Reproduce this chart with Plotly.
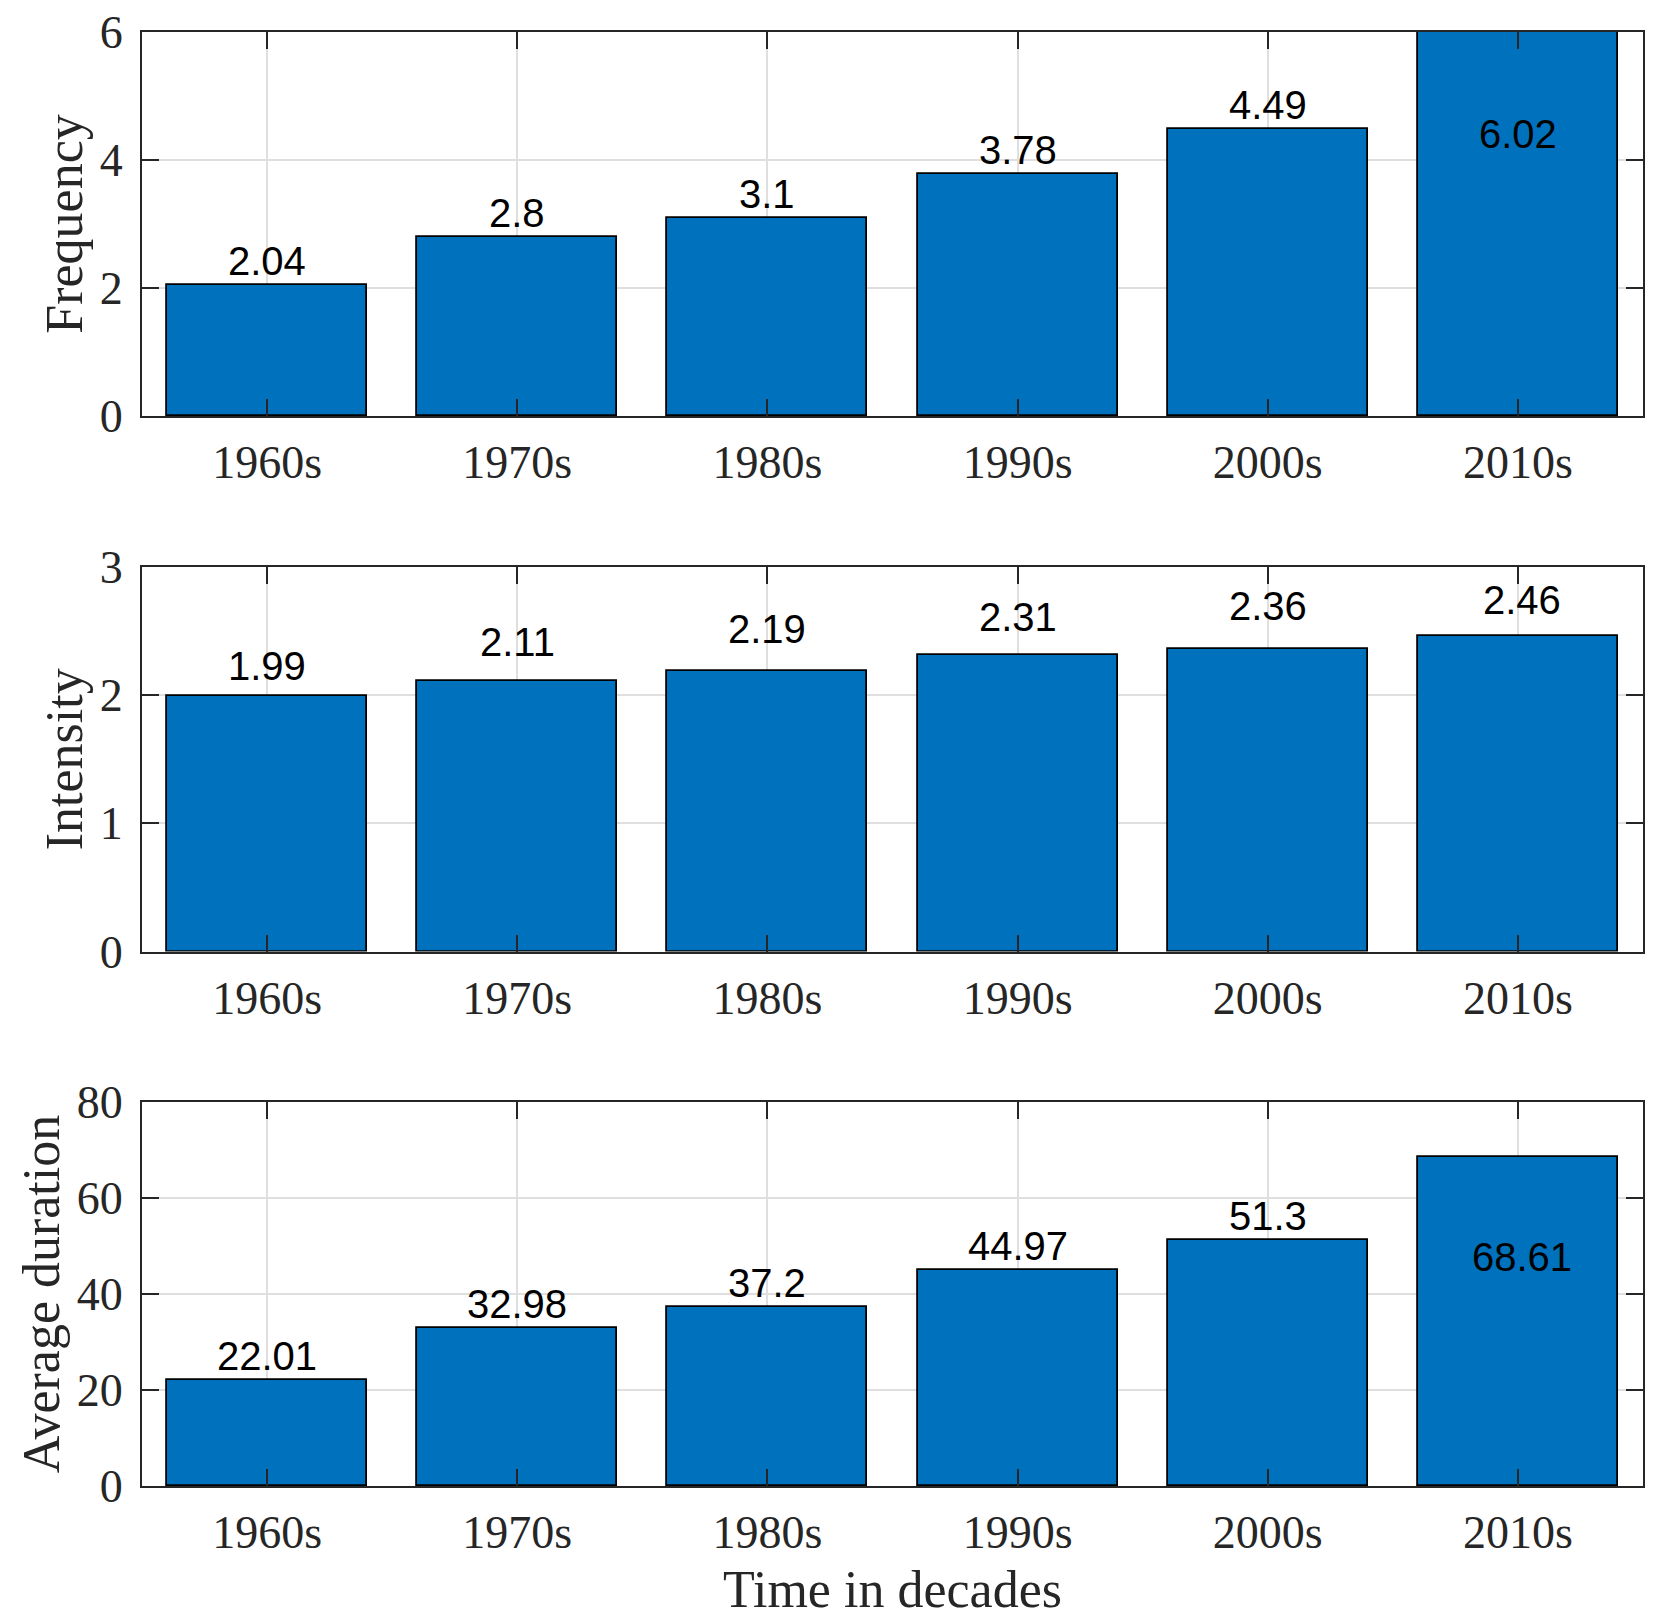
import plotly.graph_objects as go

# ---- data ----
decades = ["1960s", "1970s", "1980s", "1990s", "2000s", "2010s"]
frequency = [2.04, 2.8, 3.1, 3.78, 4.49, 6.02]
intensity = [1.99, 2.11, 2.19, 2.31, 2.36, 2.46]
duration = [22.01, 32.98, 37.2, 44.97, 51.3, 68.61]

freq_ticks = [0, 2, 4, 6]
int_ticks = [0, 1, 2, 3]
dur_ticks = [0, 20, 40, 60, 80]

# ---- label placement (pixel shifts relative to bar top) ----
freq_shift = [0, 0, 0, 0, 0, -126]
int_shift = [6, 15, 18, 14, 19, 12]
dur_shift = [0, 0, 0, 0, 0, -124]
freq_xshift = [0, 0, 0, 0, 0, 0]
int_xshift = [0, 0, 0, 0, 0, 4]
dur_xshift = [0, 0, 0, 0, 0, 4]

W, H = 1664, 1622
BAR = "#0072BD"
AX = "#262626"
GRID = "#dfdfdf"
SERIF = "Liberation Serif, Times New Roman, serif"
SANS = "Liberation Sans, Arial, sans-serif"

x = list(range(len(decades)))
xdom = [142 / W, 1643 / W]
ydoms = [
    [1 - 416 / H, 1 - 32 / H],
    [1 - 951.5 / H, 1 - 567 / H],
    [1 - 1486 / H, 1 - 1102 / H],
]

panels = [
    (frequency, freq_ticks, "Frequency", freq_shift, freq_xshift),
    (intensity, int_ticks, "Intensity", int_shift, int_xshift),
    (duration, dur_ticks, "Average duration", dur_shift, dur_xshift),
]

fig = go.Figure()
annotations = []
layout = {}
for i, (vals, ticks, title, shifts, xshifts) in enumerate(panels):
    n = i + 1
    xa = "x" if n == 1 else f"x{n}"
    ya = "y" if n == 1 else f"y{n}"
    ymax = ticks[-1]
    fig.add_trace(go.Bar(
        x=x, y=vals, width=0.8, xaxis=xa, yaxis=ya,
        marker=dict(color=BAR, line=dict(color="#000000", width=1.8)),
        showlegend=False, hoverinfo="skip",
    ))
    common = dict(
        showline=True, linecolor=AX, linewidth=2, mirror="ticks",
        ticks="inside", ticklen=17, tickwidth=2, tickcolor=AX,
        showgrid=True, gridcolor=GRID, gridwidth=1.5, zeroline=False,
        automargin=False,
        tickfont=dict(family=SERIF, size=46, color=AX),
    )
    layout[f"xaxis{'' if n == 1 else n}"] = dict(
        common, domain=xdom, anchor=ya, range=[-0.5, 5.5],
        tickvals=x, ticktext=decades, ticklabelstandoff=5,
        title=dict(text="Time in decades", font=dict(family=SERIF, size=52, color=AX), standoff=13) if n == 3 else None,
    )
    layout[f"yaxis{'' if n == 1 else n}"] = dict(
        common, domain=ydoms[i], anchor=xa, range=[ticks[0], ymax],
        tickvals=ticks, ticklabelstandoff=8,
        title=dict(text=title, font=dict(family=SERIF, size=52, color=AX), standoff=1),
    )
    for j, v in enumerate(vals):
        yv = min(v, ymax)
        annotations.append(dict(
            x=x[j], y=yv, xref=xa, yref=ya, text=f"{v:g}", showarrow=False,
            xanchor="center", yanchor="bottom", yshift=shifts[j], xshift=xshifts[j],
            font=dict(family=SANS, size=40, color="#000000"),
        ))

fig.update_layout(
    template="none",
    width=W, height=H, margin=dict(l=0, r=0, t=0, b=0, autoexpand=False),
    paper_bgcolor="white", plot_bgcolor="white",
    annotations=annotations, bargap=0, **layout,
)
fig.write_html(
    "out.html",
    config={"displayModeBar": False},
    post_script="document.body.style.margin='0px';",
)
